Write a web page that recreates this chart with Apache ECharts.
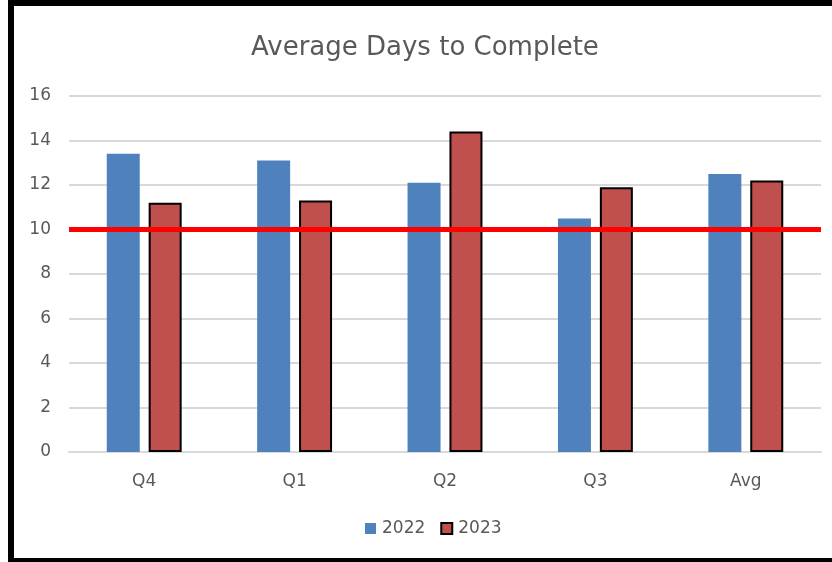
<!DOCTYPE html>
<html>
<head>
<meta charset="utf-8">
<script src="https://cdn.jsdelivr.net/npm/echarts@6/dist/echarts.min.js"></script>
<style>
  html, body { margin: 0; padding: 0; background: #fff; }
  #chart { position: absolute; left: 0; top: 0; width: 832px; height: 562px; }
  #frame {
    position: absolute; left: 8px; top: 0; width: 830px; height: 552px;
    border-left: 6px solid #000; border-top: 6px solid #000; border-bottom: 4px solid #000;
    pointer-events: none;
  }
</style>
</head>
<body>
<div id="chart"></div>
<div id="frame"></div>
<script>
var categories = ['Q4', 'Q1', 'Q2', 'Q3', 'Avg'];
var values2022 = [13.4, 13.1, 12.1, 10.5, 12.5];
var values2023 = [11.2, 11.3, 14.4, 11.9, 12.2];
var target = 10;

var myChart = echarts.init(document.getElementById('chart'));

var labelFont = 'DejaVu Sans, sans-serif';

var option = {
  animation: false,
  title: {
    text: 'Average Days to Complete',
    left: 246,
    top: 30,
    textStyle: { fontFamily: labelFont, fontSize: 26, fontWeight: 'normal', color: '#595959' }
  },
  legend: {
    data: ['2022', '2023'],
    bottom: 20,
    left: 360,
    itemWidth: 11,
    itemHeight: 11,
    itemGap: 15,
    icon: 'rect',
    textStyle: { fontFamily: labelFont, fontSize: 17, color: '#595959', padding: [0, 0, 0, 1] }
  },
  grid: { left: 69, right: 11, top: 96, bottom: 110 },
  xAxis: {
    type: 'category',
    data: categories,
    axisLine: { lineStyle: { color: '#d9d9d9', width: 2 } },
    axisTick: { show: false },
    axisLabel: { margin: 21, fontFamily: labelFont, fontSize: 17, color: '#595959' }
  },
  yAxis: {
    type: 'value',
    min: 0,
    max: 16,
    interval: 2,
    axisLine: { show: false },
    axisTick: { show: false },
    axisLabel: { margin: 18, fontFamily: labelFont, fontSize: 17, color: '#595959' },
    splitLine: { lineStyle: { color: '#d9d9d9', width: 2 } }
  },
  series: [{
    name: '2022',
    type: 'bar',
    data: values2022,
    barWidth: 33,
    barGap: '27%',
    itemStyle: { color: '#4f81bd' },
    markLine: {
      silent: true,
      symbol: 'none',
      label: { show: false },
      lineStyle: { color: '#ff0000', width: 5, type: 'solid' },
      data: [{ yAxis: target }]
    }
  }, {
    name: '2023',
    type: 'bar',
    data: values2023,
    barWidth: 33,
    itemStyle: { color: '#c0504d', borderColor: '#000', borderWidth: 2 }
  }]
};

myChart.setOption(option);
</script>
</body>
</html>
